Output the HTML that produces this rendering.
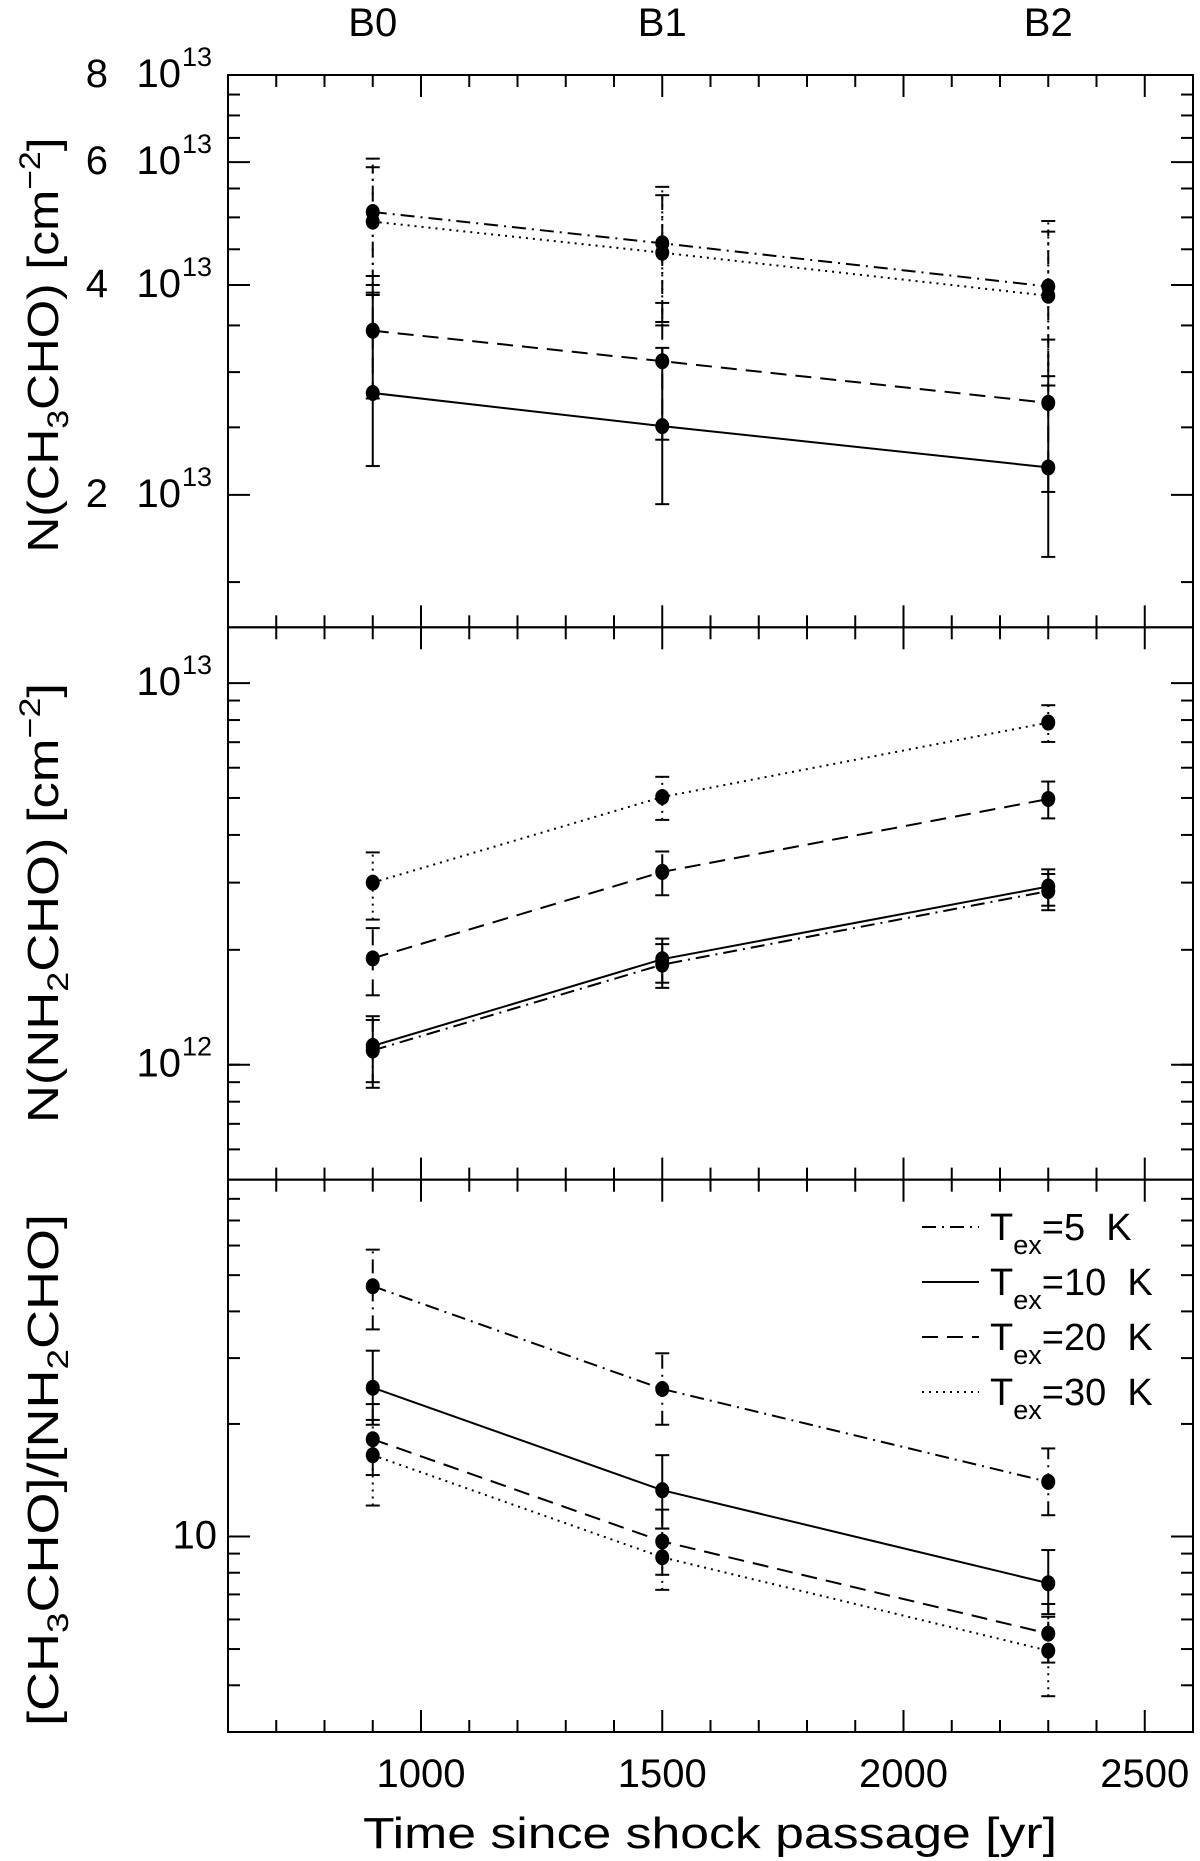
<!DOCTYPE html>
<html><head><meta charset="utf-8"><title>CH3CHO and NH2CHO vs time since shock passage</title>
<style>html,body{margin:0;padding:0;background:#fff}svg{display:block}text{font-family:"Liberation Sans",sans-serif;fill:#000}</style>
</head><body>
<svg id="chart" width="1200" height="1861" viewBox="0 0 1200 1861" xmlns="http://www.w3.org/2000/svg"></svg>
<script>
// ---- data ----
const times = [900, 1500, 2300];
const siteLabels = ['B0', 'B1', 'B2'];
const xTicks = [1000, 1500, 2000, 2500];
const seriesNames = ['Tex=5 K', 'Tex=10 K', 'Tex=20 K', 'Tex=30 K'];
const legendTemps = ['5', '10', '20', '30'];
// Panel 1: N(CH3CHO) in units of 1e13 cm^-2
const ch3_5 = [5.09, 4.59, 3.98];
const ch3_5lo = [4.0, 3.54, 2.96];
const ch3_5hi = [5.9, 5.38, 4.77];
const ch3_10 = [2.80, 2.51, 2.19];
const ch3_10lo = [2.20, 1.94, 1.63];
const ch3_10hi = [3.87, 3.25, 2.87];
const ch3_20 = [3.44, 3.11, 2.71];
const ch3_20lo = [2.75, 2.40, 2.02];
const ch3_20hi = [4.12, 3.77, 3.34];
const ch3_30 = [4.93, 4.45, 3.86];
const ch3_30lo = [3.9, 3.5, 2.87];
const ch3_30hi = [6.07, 5.53, 4.94];
// Panel 2: N(NH2CHO) in units of 1e12 cm^-2
const nh2_5 = [1.09, 1.83, 2.85];
const nh2_5lo = [0.87, 1.59, 2.54];
const nh2_5hi = [1.31, 2.07, 3.16];
const nh2_10 = [1.12, 1.89, 2.93];
const nh2_10lo = [0.90, 1.64, 2.61];
const nh2_10hi = [1.34, 2.14, 3.25];
const nh2_20 = [1.90, 3.20, 4.97];
const nh2_20lo = [1.52, 2.78, 4.42];
const nh2_20hi = [2.28, 3.62, 5.52];
const nh2_30 = [3.00, 5.03, 7.88];
const nh2_30lo = [2.40, 4.38, 7.01];
const nh2_30hi = [3.60, 5.68, 8.75];
// Panel 3: ratio
const rat_5 = [46.7, 24.8, 14.0];
const rat_5lo = [35.8, 19.9, 11.4];
const rat_5hi = [58.5, 30.9, 17.2];
const rat_10 = [25.0, 13.3, 7.5];
const rat_10lo = [19.9, 10.5, 6.2];
const rat_10hi = [31.4, 16.5, 9.2];
const rat_20 = [18.2, 9.7, 5.5];
const rat_20lo = [14.6, 7.9, 4.6];
const rat_20hi = [22.6, 11.8, 6.6];
const rat_30 = [16.5, 8.8, 4.95];
const rat_30lo = [12.1, 7.2, 3.74];
const rat_30hi = [20.5, 10.5, 6.1];
const p1Ticks = [2, 4, 6, 8];
const p2Ticks = [1, 10];
const p3Ticks = [10];

// ---- layout ----
const NS = 'http://www.w3.org/2000/svg';
const svg = document.getElementById('chart');
const L = 228, R = 1193, X0 = 600, X1 = 2600;
const tops = [75, 627.3, 1179.7];
const PH = 552.3;
const ranges = [[1.292, 8], [0.5, 14.0], [3, 90]];
const styles = ['14 6 2 6', '', '16 9', '2 5'];
function xs(v){ return L + (v - X0) / (X1 - X0) * (R - L); }
function ys(p, v){ const [a,b] = ranges[p]; return tops[p] + PH - Math.log10(v / a) / Math.log10(b / a) * PH; }
function el(tag, attrs, parent){ const e = document.createElementNS(NS, tag); for (const k in attrs) e.setAttribute(k, attrs[k]); (parent || svg).appendChild(e); return e; }
function line(x1,y1,x2,y2,dash,g){ const e = el('line',{x1,y1,x2,y2,stroke:'#000','stroke-width':2,'stroke-dasharray':dash||'none'},g); return e; }

// frame + ticks
for (let p = 0; p < 3; p++) {
  const g = el('g', {});
  
  
  const t = tops[p], b = t + PH;
  el('rect', {x:L, y:t, width:R-L, height:PH, fill:'none', stroke:'#000', 'stroke-width':2}, g);
  for (let v = 700; v <= 2500; v += 100) {
    const X = xs(v), len = (v % 500 === 0) ? 22 : 12;
    line(X, t, X, t + len, '', g);
    line(X, b, X, b - len, '', g);
  }
  let minors = [], majors = [];
  if (p === 0) { for (let v = 1.5; v < 8; v += 0.5) { (v % 2 === 0 ? majors : minors).push(v); } }
  if (p === 1) { for (let v = 0.6; v < 1; v += 0.1) minors.push(v); majors.push(1); for (let v = 2; v < 10; v++) minors.push(v); majors.push(10); }
  if (p === 2) { for (let v = 4; v < 10; v++) minors.push(v); majors.push(10); for (let v = 20; v < 90; v += 10) minors.push(v); }
  minors.forEach(v => { const Y = ys(p, v); if (Y > t + 1 && Y < b - 1) { line(L, Y, L + 12, Y, '', g); line(R, Y, R - 12, Y, '', g); } });
  majors.forEach(v => { const Y = ys(p, v); if (Y > t - 1 && Y < b + 1) { line(L, Y, L + 22, Y, '', g); line(R, Y, R - 22, Y, '', g); } });
}

// y tick labels
function yLabel(p, v, pre, sup, name){
  const Y = ys(p, v);
  const g = el('g', {});
  
  
  if (pre) el('text', {x:108, y:Y+12, 'font-size':40, 'text-anchor':'end'}, g).textContent = pre;
  if (sup) {
    el('text', {x:181, y:Y+12, 'font-size':40, 'text-anchor':'end'}, g).textContent = '10';
    el('text', {x:182, y:Y-9, 'font-size':27}, g).textContent = sup;
  } else {
    el('text', {x:217, y:Y+12, 'font-size':40, 'text-anchor':'end'}, g).textContent = '10';
  }
}
p1Ticks.forEach(v => yLabel(0, v, String(v), '13', 'y-tick-label-p1-' + v));
yLabel(1, 10, '', '13', 'y-tick-label-p2-1e13');
yLabel(1, 1, '', '12', 'y-tick-label-p2-1e12');
yLabel(2, 10, '', '', 'y-tick-label-p3-10');

// x tick labels
xTicks.forEach(v => {
  const e = el('text', {x:xs(v), y:1787, 'font-size':40, 'text-anchor':'middle'});
  e.textContent = v;
  
  
});
// site labels
times.forEach((v, i) => {
  const e = el('text', {x:xs(v), y:36, 'font-size':40, 'text-anchor':'middle'});
  e.textContent = siteLabels[i];
  
  
});

// axis titles
const xt = el('text', {x:710, y:1848, 'font-size':44, 'text-anchor':'middle', textLength:694, lengthAdjust:'spacingAndGlyphs'});
xt.textContent = 'Time since shock passage [yr]';



function yTitle(cy, len, parts, name){
  const e = el('text', {x:0, y:0, 'font-size':44, 'text-anchor':'middle', transform:'translate(58,' + cy + ') rotate(-90)', textLength:len, lengthAdjust:'spacingAndGlyphs'});
  parts.forEach(pt => { const s = el('tspan', pt.dy ? {dy:pt.dy, 'font-size':pt.fs} : {}, e); s.textContent = pt.t; });
  
  
}
yTitle(345, 415, [{t:'N(CH'},{t:'3',dy:10,fs:30},{t:'CHO)  [cm',dy:-10,fs:44},{t:'−2',dy:-18,fs:30},{t:']',dy:18,fs:44}], 'y-axis-title-ch3cho');
yTitle(903, 440, [{t:'N(NH'},{t:'2',dy:10,fs:30},{t:'CHO)  [cm',dy:-10,fs:44},{t:'−2',dy:-18,fs:30},{t:']',dy:18,fs:44}], 'y-axis-title-nh2cho');
yTitle(1470, 512, [{t:'[CH'},{t:'3',dy:10,fs:30},{t:'CHO]/[NH',dy:-10,fs:44},{t:'2',dy:10,fs:30},{t:'CHO]',dy:-10,fs:44}], 'y-axis-title-ratio');

// series
const panelSeries = [
  [[ch3_5,ch3_5lo,ch3_5hi],[ch3_10,ch3_10lo,ch3_10hi],[ch3_20,ch3_20lo,ch3_20hi],[ch3_30,ch3_30lo,ch3_30hi]],
  [[nh2_5,nh2_5lo,nh2_5hi],[nh2_10,nh2_10lo,nh2_10hi],[nh2_20,nh2_20lo,nh2_20hi],[nh2_30,nh2_30lo,nh2_30hi]],
  [[rat_5,rat_5lo,rat_5hi],[rat_10,rat_10lo,rat_10hi],[rat_20,rat_20lo,rat_20hi],[rat_30,rat_30lo,rat_30hi]]
];
const panelKeys = ['ch3cho', 'nh2cho', 'ratio'];
panelSeries.forEach((ser, p) => {
  ser.forEach((s, k) => {
    const [vals, lo, hi] = s;
    const g = el('g', {});
    
    
    const pts = vals.map((v, i) => xs(times[i]).toFixed(1) + ',' + ys(p, v).toFixed(1)).join(' ');
    el('polyline', {points:pts, fill:'none', stroke:'#000', 'stroke-width':2, 'stroke-dasharray':styles[k] || 'none'}, g);
    vals.forEach((v, i) => {
      const X = xs(times[i]), y1 = ys(p, lo[i]), y2 = ys(p, hi[i]);
      const eb = el('g', {}, g);
      
      
      line(X, y1, X, y2, styles[k], eb);
      line(X - 7, y1, X + 7, y1, '', eb);
      line(X - 7, y2, X + 7, y2, '', eb);
      const c = el('ellipse', {cx:X, cy:ys(p, v), rx:7, ry:8, fill:'#000'}, g);
      
      
    });
  });
});

// legend
const lg = el('g', {});


const rowY = [1240, 1295, 1350, 1405];
legendTemps.forEach((tmp, k) => {
  const row = el('g', {}, lg);
  
  
  line(922, rowY[k] - 13, 979, rowY[k] - 13, styles[k], row);
  const t = el('text', {x:990, y:rowY[k], 'font-size':38}, row);
  const a = el('tspan', {}, t); a.textContent = 'T';
  const b = el('tspan', {dy:14, 'font-size':27}, t); b.textContent = 'ex';
  const c = el('tspan', {dy:-14, 'font-size':38}, t); c.textContent = '=' + tmp + '\u00a0 K';
});
</script>
</body></html>
